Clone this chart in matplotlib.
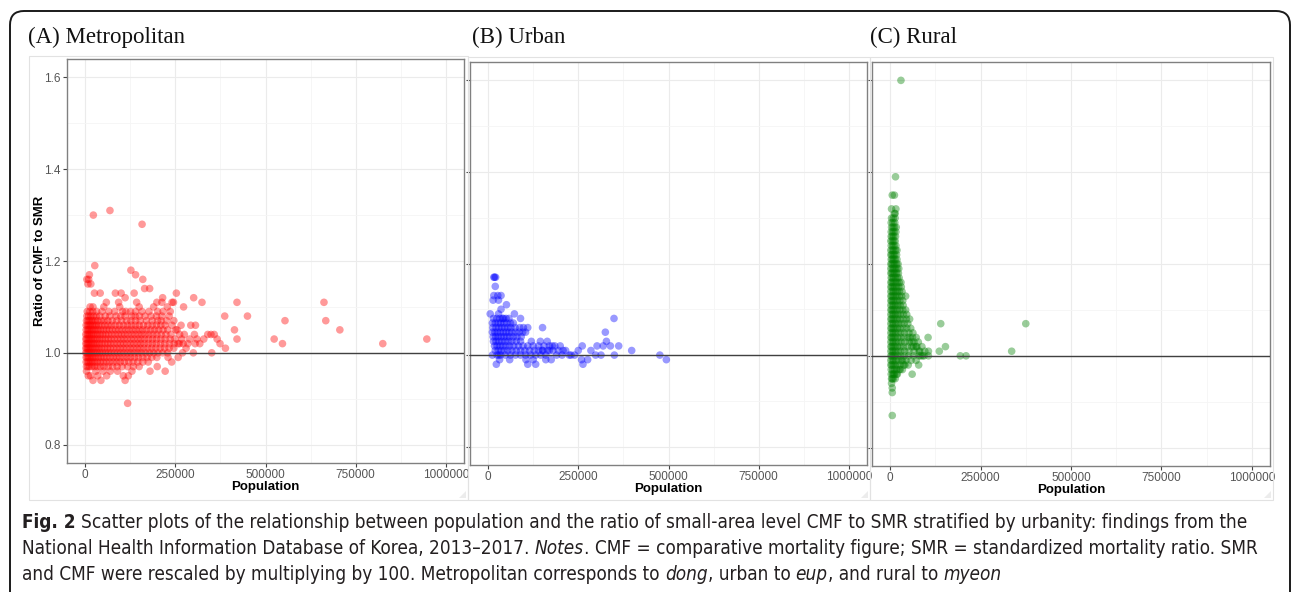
import numpy as np
import matplotlib
matplotlib.use("Agg")
import matplotlib.pyplot as plt
from matplotlib.patches import FancyBboxPatch, Rectangle, Polygon
from matplotlib.transforms import IdentityTransform
from matplotlib.ticker import FormatStrFormatter

plt.rcParams['font.family'] = ['Liberation Sans', 'DejaVu Sans']

W, H = 1292, 592

# (population in thousands, ratio of CMF to SMR)
metro_pts = [
    (23, 1.30), (69, 1.31), (158, 1.28), (27, 1.19), (127, 1.18), (140, 1.17), (160, 1.16),
    (12, 1.17), (5, 1.16), (10, 1.16), (16, 1.15), (8, 1.15), (165, 1.14), (179, 1.14),
    (26, 1.13), (42, 1.13), (84, 1.13), (100, 1.13), (136, 1.13), (111, 1.12), (253, 1.13),
    (215, 1.12), (59, 1.11), (93, 1.11), (143, 1.11), (199, 1.11), (213, 1.11), (241, 1.11),
    (245, 1.11), (301, 1.12), (324, 1.11), (421, 1.11), (273, 1.10), (387, 1.08), (450, 1.08),
    (266, 1.06), (293, 1.06), (306, 1.06), (414, 1.05), (349, 1.04), (358, 1.04), (366, 1.03),
    (374, 1.02), (389, 1.01), (421, 1.03), (303, 1.04), (329, 1.03), (305, 1.02), (351, 1.00),
    (222, 0.96), (118, 0.89), (22, 0.94), (44, 0.94), (111, 0.94), (106, 0.95), (9, 0.95),
    (4, 0.96), (662, 1.11), (667, 1.07), (706, 1.05), (825, 1.02), (947, 1.03), (554, 1.07),
    (524, 1.03), (547, 1.02), (285, 1.02), (290, 1.03), (280, 1.01), (270, 1.00), (300, 1.00),
    (262, 1.02), (275, 1.04), (310, 1.03), (318, 1.02), (340, 1.04), (255, 1.05), (258, 0.99),
    (240, 0.98), (230, 0.99), (200, 0.97), (180, 0.96), (150, 0.97), (130, 0.96), (120, 0.95),
    (90, 0.96), (70, 0.96), (60, 0.95), (50, 0.96), (35, 0.95), (15, 0.95), (30, 0.96),
    (14, 1.10), (22, 1.10), (52, 1.10), (96, 1.10), (150, 1.10), (190, 1.10), (228, 1.10),
    (6, 1.09), (13, 1.09), (21, 1.09), (32, 1.09), (47, 1.09), (66, 1.09), (82, 1.09),
    (104, 1.09), (113, 1.09), (126, 1.09), (140, 1.09), (158, 1.09), (177, 1.09), (201, 1.09),
    (216, 1.09), (236, 1.09),
    (5, 1.08), (10, 1.08), (16, 1.08), (23, 1.08), (31, 1.08), (41, 1.08), (56, 1.08), (69, 1.08),
    (86, 1.08), (99, 1.08), (111, 1.08), (129, 1.08), (139, 1.08), (151, 1.08), (166, 1.08),
    (183, 1.08), (198, 1.08), (213, 1.08), (233, 1.08),
    (4, 1.07), (8, 1.07), (12, 1.07), (17, 1.07), (22, 1.07), (28, 1.07), (35, 1.07), (44, 1.07),
    (53, 1.07), (63, 1.07), (75, 1.07), (88, 1.07), (101, 1.07), (115, 1.07), (127, 1.07),
    (140, 1.07), (153, 1.07), (170, 1.07), (186, 1.07), (201, 1.07), (211, 1.07), (226, 1.07),
    (246, 1.07),
    (3, 1.06), (7, 1.06), (11, 1.06), (15, 1.06), (20, 1.06), (26, 1.06), (31, 1.06), (38, 1.06),
    (46, 1.06), (55, 1.06), (64, 1.06), (73, 1.06), (84, 1.06), (95, 1.06), (106, 1.06),
    (117, 1.06), (128, 1.06), (139, 1.06), (150, 1.06), (162, 1.06), (174, 1.06), (186, 1.06),
    (198, 1.06), (210, 1.06), (222, 1.06), (241, 1.06),
    (3, 1.05), (7, 1.05), (10, 1.05), (14, 1.05), (19, 1.05), (24, 1.05), (30, 1.05), (36, 1.05),
    (43, 1.05), (51, 1.05), (59, 1.05), (67, 1.05), (76, 1.05), (85, 1.05), (94, 1.05),
    (103, 1.05), (113, 1.05), (122, 1.05), (132, 1.05), (141, 1.05), (151, 1.05), (160, 1.05),
    (171, 1.05), (182, 1.05), (193, 1.05), (204, 1.05), (216, 1.05), (229, 1.05), (251, 1.05),
    (2, 1.04), (6, 1.04), (9, 1.04), (13, 1.04), (18, 1.04), (23, 1.04), (29, 1.04), (35, 1.04),
    (42, 1.04), (49, 1.04), (57, 1.04), (65, 1.04), (74, 1.04), (83, 1.04), (92, 1.04),
    (101, 1.04), (110, 1.04), (119, 1.04), (129, 1.04), (138, 1.04), (148, 1.04), (157, 1.04),
    (167, 1.04), (177, 1.04), (188, 1.04), (199, 1.04), (211, 1.04), (224, 1.04), (238, 1.04),
    (262, 1.04),
    (2, 1.03), (5, 1.03), (9, 1.03), (13, 1.03), (17, 1.03), (22, 1.03), (28, 1.03), (34, 1.03),
    (41, 1.03), (48, 1.03), (56, 1.03), (64, 1.03), (72, 1.03), (81, 1.03), (90, 1.03),
    (99, 1.03), (108, 1.03), (117, 1.03), (127, 1.03), (136, 1.03), (146, 1.03), (155, 1.03),
    (165, 1.03), (176, 1.03), (187, 1.03), (198, 1.03), (210, 1.03), (222, 1.03), (236, 1.03),
    (249, 1.03), (268, 1.03),
    (2, 1.02), (5, 1.02), (8, 1.02), (12, 1.02), (17, 1.02), (22, 1.02), (27, 1.02), (33, 1.02),
    (40, 1.02), (47, 1.02), (55, 1.02), (63, 1.02), (71, 1.02), (80, 1.02), (89, 1.02),
    (98, 1.02), (107, 1.02), (116, 1.02), (126, 1.02), (135, 1.02), (145, 1.02), (154, 1.02),
    (164, 1.02), (175, 1.02), (186, 1.02), (197, 1.02), (209, 1.02), (221, 1.02), (234, 1.02),
    (247, 1.02), (258, 1.02), (272, 1.02),
    (2, 1.01), (5, 1.01), (8, 1.01), (12, 1.01), (16, 1.01), (21, 1.01), (27, 1.01), (33, 1.01),
    (39, 1.01), (46, 1.01), (54, 1.01), (62, 1.01), (70, 1.01), (79, 1.01), (88, 1.01),
    (97, 1.01), (106, 1.01), (115, 1.01), (125, 1.01), (134, 1.01), (144, 1.01), (153, 1.01),
    (163, 1.01), (174, 1.01), (185, 1.01), (196, 1.01), (208, 1.01), (220, 1.01), (233, 1.01),
    (246, 1.01),
    (2, 1.00), (5, 1.00), (9, 1.00), (13, 1.00), (17, 1.00), (22, 1.00), (28, 1.00), (34, 1.00),
    (41, 1.00), (48, 1.00), (56, 1.00), (64, 1.00), (72, 1.00), (81, 1.00), (90, 1.00),
    (99, 1.00), (108, 1.00), (118, 1.00), (127, 1.00), (137, 1.00), (147, 1.00), (157, 1.00),
    (168, 1.00), (179, 1.00), (190, 1.00), (202, 1.00), (215, 1.00), (229, 1.00),
    (3, 0.99), (6, 0.99), (10, 0.99), (14, 0.99), (19, 0.99), (24, 0.99), (30, 0.99), (37, 0.99),
    (44, 0.99), (52, 0.99), (60, 0.99), (69, 0.99), (78, 0.99), (87, 0.99), (96, 0.99),
    (106, 0.99), (116, 0.99), (126, 0.99), (137, 0.99), (148, 0.99), (160, 0.99), (172, 0.99),
    (185, 0.99), (199, 0.99),
    (3, 0.98), (7, 0.98), (11, 0.98), (16, 0.98), (21, 0.98), (27, 0.98), (34, 0.98), (42, 0.98),
    (50, 0.98), (59, 0.98), (68, 0.98), (78, 0.98), (88, 0.98), (98, 0.98), (109, 0.98),
    (121, 0.98), (133, 0.98), (146, 0.98), (160, 0.98), (175, 0.98),
    (4, 0.97), (8, 0.97), (13, 0.97), (19, 0.97), (26, 0.97), (34, 0.97), (43, 0.97), (53, 0.97),
    (64, 0.97), (76, 0.97), (89, 0.97), (103, 0.97), (118, 0.97), (134, 0.97),
]

urban_pts = [
    (16, 1.17), (18, 1.17), (21, 1.17), (20, 1.15), (16, 1.13), (27, 1.13), (36, 1.13),
    (14, 1.12), (29, 1.12), (51, 1.11), (6, 1.09), (73, 1.09), (36, 1.10), (29, 1.09),
    (43, 1.08), (90, 1.08), (349, 1.08), (151, 1.06), (325, 1.05), (328, 1.03), (302, 1.02),
    (319, 1.02), (339, 1.02), (362, 1.02), (398, 1.01), (476, 1.00), (494, 0.99), (261, 1.02),
    (285, 1.01), (259, 0.99), (276, 0.99), (263, 0.98), (23, 0.98), (32, 0.99), (132, 0.98),
    (164, 1.03), (298, 1.00), (313, 1.00), (350, 1.00), (240, 1.00), (250, 1.01), (225, 1.00),
    (208, 1.01), (195, 1.01), (190, 1.00), (178, 1.02), (170, 1.01), (160, 0.99), (150, 1.01),
    (105, 0.99), (125, 0.99), (110, 0.98), (60, 0.99), (30, 1.00), (12, 1.00), (175, 0.99),
    (15, 1.08), (24, 1.08), (33, 1.08), (40, 1.08), (50, 1.08), (58, 1.08),
    (12, 1.07), (20, 1.07), (28, 1.07), (35, 1.07), (44, 1.07), (52, 1.07), (62, 1.07), (70, 1.07),
    (13, 1.06), (22, 1.06), (30, 1.06), (38, 1.06), (46, 1.06), (55, 1.06), (63, 1.06), (75, 1.06),
    (88, 1.06), (98, 1.06), (110, 1.06),
    (12, 1.05), (19, 1.05), (26, 1.05), (34, 1.05), (42, 1.05), (50, 1.05), (58, 1.05), (66, 1.05),
    (76, 1.05), (86, 1.05), (96, 1.05), (104, 1.05),
    (14, 1.04), (21, 1.04), (28, 1.04), (36, 1.04), (44, 1.04), (52, 1.04), (60, 1.04), (70, 1.04),
    (80, 1.04), (92, 1.04),
    (15, 1.03), (22, 1.03), (30, 1.03), (38, 1.03), (47, 1.03), (56, 1.03), (66, 1.03), (78, 1.03),
    (90, 1.03), (120, 1.03), (145, 1.03),
    (18, 1.02), (25, 1.02), (33, 1.02), (41, 1.02), (50, 1.02), (60, 1.02), (71, 1.02), (84, 1.02),
    (97, 1.02), (110, 1.02), (125, 1.02), (140, 1.02), (155, 1.02), (170, 1.02), (185, 1.02),
    (200, 1.02),
    (20, 1.01), (28, 1.01), (36, 1.01), (45, 1.01), (55, 1.01), (66, 1.01), (78, 1.01), (90, 1.01),
    (102, 1.01), (115, 1.01), (128, 1.01), (140, 1.01), (152, 1.01), (165, 1.01), (180, 1.01),
    (215, 1.01),
    (25, 1.00), (35, 1.00), (48, 1.00), (62, 1.00), (76, 1.00), (90, 1.00), (104, 1.00),
    (118, 1.00), (132, 1.00), (146, 1.00), (160, 1.00), (205, 1.00), (230, 1.00),
]

rural_pts = [
    (30, 1.60), (15, 1.39), (6, 1.35), (12, 1.35), (4, 1.32), (16, 1.32), (12, 1.31), (14, 1.31),
    (140, 1.07), (375, 1.07), (105, 1.04), (153, 1.02), (136, 1.01), (336, 1.01), (194, 1.00),
    (210, 1.00), (106, 1.01), (106, 1.00), (79, 0.98), (41, 0.98), (61, 0.96), (6, 0.95),
    (6, 0.93), (6, 0.92), (6, 0.87), (43, 1.13), (72, 1.02), (80, 1.01), (90, 1.00), (85, 1.00),
    (65, 1.02), (55, 1.04), (60, 1.03), (35, 0.99), (28, 0.97), (20, 0.96), (10, 0.96), (4, 0.94),
    (4, 1.30), (9, 1.30), (14, 1.30), (3, 1.29), (8, 1.29), (13, 1.29),
    (4, 1.28), (8, 1.28), (12, 1.28), (17, 1.28), (3, 1.27), (7, 1.27), (11, 1.27), (16, 1.27),
    (3, 1.26), (6, 1.26), (10, 1.26), (15, 1.26), (2, 1.25), (6, 1.25), (10, 1.25), (14, 1.25),
    (3, 1.24), (7, 1.24), (11, 1.24), (16, 1.24), (2, 1.23), (6, 1.23), (10, 1.23), (15, 1.23),
    (19, 1.23), (2, 1.22), (5, 1.22), (9, 1.22), (13, 1.22), (18, 1.22),
    (3, 1.21), (6, 1.21), (10, 1.21), (14, 1.21), (19, 1.21),
    (2, 1.20), (5, 1.20), (9, 1.20), (13, 1.20), (18, 1.20), (22, 1.20),
    (2, 1.19), (6, 1.19), (10, 1.19), (14, 1.19), (19, 1.19), (24, 1.19),
    (2, 1.18), (5, 1.18), (9, 1.18), (13, 1.18), (18, 1.18), (23, 1.18),
    (3, 1.17), (6, 1.17), (10, 1.17), (15, 1.17), (20, 1.17), (25, 1.17),
    (2, 1.16), (5, 1.16), (9, 1.16), (14, 1.16), (19, 1.16), (25, 1.16), (30, 1.16),
    (2, 1.15), (5, 1.15), (9, 1.15), (13, 1.15), (18, 1.15), (24, 1.15), (31, 1.15),
    (2, 1.14), (6, 1.14), (10, 1.14), (15, 1.14), (20, 1.14), (26, 1.14), (33, 1.14),
    (2, 1.13), (5, 1.13), (9, 1.13), (14, 1.13), (19, 1.13), (25, 1.13), (32, 1.13),
    (2, 1.12), (5, 1.12), (9, 1.12), (14, 1.12), (20, 1.12), (27, 1.12), (35, 1.12),
    (2, 1.11), (6, 1.11), (10, 1.11), (15, 1.11), (21, 1.11), (28, 1.11), (36, 1.11),
    (2, 1.10), (5, 1.10), (9, 1.10), (14, 1.10), (20, 1.10), (27, 1.10), (35, 1.10), (43, 1.10),
    (2, 1.09), (6, 1.09), (10, 1.09), (15, 1.09), (21, 1.09), (28, 1.09), (37, 1.09), (46, 1.09),
    (2, 1.08), (5, 1.08), (9, 1.08), (14, 1.08), (20, 1.08), (27, 1.08), (35, 1.08), (45, 1.08),
    (54, 1.08),
    (2, 1.07), (6, 1.07), (10, 1.07), (16, 1.07), (22, 1.07), (30, 1.07), (39, 1.07), (49, 1.07),
    (2, 1.06), (5, 1.06), (9, 1.06), (14, 1.06), (20, 1.06), (27, 1.06), (36, 1.06), (46, 1.06),
    (57, 1.06),
    (2, 1.05), (6, 1.05), (10, 1.05), (15, 1.05), (22, 1.05), (30, 1.05), (40, 1.05), (52, 1.05),
    (63, 1.05),
    (2, 1.04), (5, 1.04), (9, 1.04), (14, 1.04), (21, 1.04), (29, 1.04), (38, 1.04), (49, 1.04),
    (62, 1.04), (72, 1.04),
    (2, 1.03), (6, 1.03), (10, 1.03), (16, 1.03), (23, 1.03), (31, 1.03), (41, 1.03), (53, 1.03),
    (66, 1.03), (78, 1.03),
    (2, 1.02), (5, 1.02), (9, 1.02), (14, 1.02), (20, 1.02), (28, 1.02), (37, 1.02), (48, 1.02),
    (60, 1.02), (74, 1.02), (88, 1.02),
    (2, 1.01), (6, 1.01), (10, 1.01), (15, 1.01), (22, 1.01), (30, 1.01), (40, 1.01), (52, 1.01),
    (66, 1.01), (82, 1.01), (96, 1.01),
    (2, 1.00), (5, 1.00), (9, 1.00), (14, 1.00), (21, 1.00), (29, 1.00), (39, 1.00), (51, 1.00),
    (65, 1.00), (80, 1.00), (94, 1.00),
    (2, 0.99), (6, 0.99), (10, 0.99), (16, 0.99), (23, 0.99), (32, 0.99), (44, 0.99), (58, 0.99),
    (72, 0.99),
    (2, 0.98), (5, 0.98), (9, 0.98), (14, 0.98), (20, 0.98), (28, 0.98), (38, 0.98), (50, 0.98),
    (3, 0.97), (7, 0.97), (12, 0.97), (18, 0.97), (25, 0.97), (34, 0.97),
    (3, 0.96), (7, 0.96), (12, 0.96), (18, 0.96), (4, 0.95), (9, 0.95), (14, 0.95),
]

panel_titles = ["(A) Metropolitan", "(B) Urban", "(C) Rural"]
panel_colors = ["#FF0000", "#0000FF", "#008000"]
x_ticks = [0, 250000, 500000, 750000, 1000000]
y_ticks = [0.8, 1.0, 1.2, 1.4, 1.6]

# pixel boxes (left, top, right, bottom) measured on the reference
axes_px = [(67, 59, 464, 463), (470, 62, 867, 465), (872, 62, 1270, 466)]
image_px = [(29, 56, 468, 500), (468, 57, 870, 500), (870, 57, 1273, 500)]
title_px = [(28, 43), (472, 43), (870, 43)]

fig = plt.figure(figsize=(W / 100, H / 100), dpi=100)
fig.patch.set_facecolor("white")

# outer rounded frame of the figure box
frame = FancyBboxPatch((10, -40), 1280, H - 11 + 40,
                       boxstyle="round,pad=0,rounding_size=14",
                       transform=IdentityTransform(), fill=False,
                       ec="#1a1a1a", lw=1.4)
fig.add_artist(frame)

for (l, t, r, b) in image_px:
    fig.add_artist(Rectangle((l, H - b), r - l, b - t, transform=IdentityTransform(),
                             fill=False, ec="#e2e2e2", lw=0.8))
    fig.add_artist(Polygon([(r - 2, H - b + 2), (r - 9, H - b + 2), (r - 2, H - b + 9)],
                           closed=True, transform=IdentityTransform(),
                           fc="#ececec", ec="none"))

all_pts = [metro_pts, urban_pts, rural_pts]

for i, pts in enumerate(all_pts):
    l, t, r, b = axes_px[i]
    ax = fig.add_axes([l / W, 1 - b / H, (r - l) / W, (b - t) / H])
    pop = np.array([p[0] for p in pts]) * 1000
    ratio = np.array([p[1] for p in pts])
    ax.scatter(pop, ratio, s=30, c=panel_colors[i], alpha=0.4, edgecolors="none", zorder=3)
    ax.axhline(1.0, color="#404040", lw=1.0, zorder=4)

    ax.set_xlim(-50000, 1050000)
    ax.set_ylim(0.76, 1.64)
    ax.set_xticks(x_ticks)
    ax.set_xticklabels([str(v) for v in x_ticks])
    ax.set_yticks(y_ticks)
    ax.yaxis.set_major_formatter(FormatStrFormatter("%.1f"))
    ax.set_xticks([125000, 375000, 625000, 875000], minor=True)
    ax.set_yticks([0.9, 1.1, 1.3, 1.5], minor=True)
    ax.grid(which="major", color="#ebebeb", lw=0.8, zorder=0)
    ax.grid(which="minor", color="#f5f5f5", lw=0.6, zorder=0)
    ax.set_axisbelow(True)
    ax.tick_params(which="major", length=3, width=0.8, color="#444444",
                   labelsize=8.5, labelcolor="#555555", pad=1.5)
    ax.tick_params(which="minor", length=0)
    for sp in ax.spines.values():
        sp.set_color("#808080")
        sp.set_linewidth(1.0)
    ax.set_xlabel("Population", fontsize=9.5, fontweight="bold", labelpad=0)
    if i == 0:
        ax.set_ylabel("Ratio of CMF to SMR", fontsize=9.5, fontweight="bold")
        ax.yaxis.set_label_coords(-0.053, 0.5)
    else:
        ax.set_yticklabels([])

    tx, ty = title_px[i]
    fig.text(tx / W, 1 - ty / H, panel_titles[i], fontsize=16.5, va="baseline", ha="left",
             family=["Liberation Serif", "DejaVu Serif"], color="#111111")

# caption drawn in runs so bold / italic words sit inline
cap_family = ["Liberation Sans Narrow", "DejaVu Sans"]
caption_lines = [
    [("Fig. 2", "bold", False),
     ("Scatter plots of the relationship between population and the ratio of small-area level CMF to SMR stratified by urbanity: findings from the", "normal", True)],
    [("National Health Information Database of Korea, 2013\u20132017.", "normal", False),
     ("Notes", "italic", True),
     (". CMF = comparative mortality figure; SMR = standardized mortality ratio. SMR", "normal", False)],
    [("and CMF were rescaled by multiplying by 100. Metropolitan corresponds to", "normal", False),
     ("dong", "italic", True), (", urban to", "normal", False), ("eup", "italic", True),
     (", and rural to", "normal", False), ("myeon", "italic", True)],
]
cap_y = [528, 554, 580]
renderer = fig.canvas.get_renderer()


def run_text(x, y, s, style, size):
    kw = dict(fontsize=size, family=cap_family, fontstretch="condensed", color="#231f20",
              va="baseline", ha="left", transform=IdentityTransform())
    if style == "bold":
        kw["fontweight"] = "bold"
    if style == "italic":
        kw["fontstyle"] = "italic"
    return fig.text(x, y, s, **kw)


def line_width(line, size):
    sp1 = run_text(0, 0, "a a", "normal", size)
    sp2 = run_text(0, 0, "aa", "normal", size)
    space = sp1.get_window_extent(renderer).width - sp2.get_window_extent(renderer).width
    sp1.remove()
    sp2.remove()
    total = 0
    for s, style, gap in line:
        t = run_text(0, 0, s, style, size)
        total += t.get_window_extent(renderer).width + (space if gap else 0)
        t.remove()
    return total, space


# fit the caption size between the widths of the first two reference lines
w1, _ = line_width(caption_lines[0], 12)
w2, _ = line_width(caption_lines[1], 12)
cap_size = 12 * (1241 + 1225) / (w1 + w2)
_, space_w = line_width(caption_lines[0], cap_size)

for line, yy in zip(caption_lines, cap_y):
    x = 22
    for s, style, gap in line:
        if gap:
            x += space_w
        t = run_text(x, H - yy, s, style, cap_size)
        x += t.get_window_extent(renderer).width

fig.savefig("out.png", dpi=100, facecolor="white")
